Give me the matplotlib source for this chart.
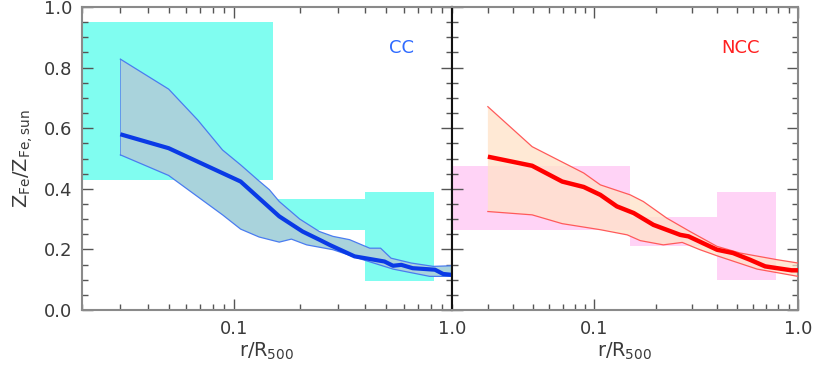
import numpy as np
import matplotlib
matplotlib.use("Agg")
import matplotlib.pyplot as plt
from matplotlib.ticker import FixedLocator, FuncFormatter, MultipleLocator

# ---------------- data ----------------
# CC panel: observational boxes (x0, x1, y0, y1)
cc_box_x0 = [0.02, 0.15, 0.40]
cc_box_x1 = [0.15, 0.40, 0.83]
cc_box_y0 = [0.43, 0.265, 0.095]
cc_box_y1 = [0.95, 0.365, 0.39]

cc_mean_x = [0.03, 0.05, 0.107, 0.161, 0.206, 0.246, 0.274, 0.357, 0.49, 0.536, 0.585, 0.66, 0.835, 0.91, 1.0]
cc_mean_y = [0.58, 0.534, 0.424, 0.309, 0.259, 0.232, 0.215, 0.177, 0.160, 0.146, 0.149, 0.138, 0.133, 0.119, 0.116]

cc_up_x = [0.03, 0.05, 0.068, 0.0884, 0.107, 0.128, 0.145, 0.161, 0.2, 0.246, 0.284, 0.339, 0.419, 0.47, 0.525, 0.65, 0.82, 1.0]
cc_up_y = [0.828, 0.729, 0.627, 0.528, 0.479, 0.430, 0.397, 0.358, 0.300, 0.259, 0.243, 0.232, 0.204, 0.204, 0.171, 0.155, 0.144, 0.146]

cc_lo_x = [0.03, 0.05, 0.0884, 0.107, 0.130, 0.161, 0.183, 0.215, 0.284, 0.39, 0.536, 0.79, 1.0]
cc_lo_y = [0.512, 0.444, 0.314, 0.267, 0.241, 0.224, 0.234, 0.215, 0.199, 0.166, 0.135, 0.111, 0.111]

# NCC panel
ncc_box_x0 = [0.02, 0.15, 0.40]
ncc_box_x1 = [0.15, 0.40, 0.78]
ncc_box_y0 = [0.265, 0.212, 0.10]
ncc_box_y1 = [0.475, 0.307, 0.39]

ncc_mean_x = [0.03, 0.0495, 0.0695, 0.0887, 0.107, 0.129, 0.156, 0.195, 0.264, 0.29, 0.40, 0.48, 0.58, 0.69, 0.79, 0.93, 1.0]
ncc_mean_y = [0.506, 0.476, 0.424, 0.406, 0.380, 0.342, 0.320, 0.281, 0.248, 0.243, 0.199, 0.188, 0.166, 0.144, 0.138, 0.131, 0.131]

ncc_up_x = [0.03, 0.0495, 0.0887, 0.107, 0.15, 0.174, 0.227, 0.295, 0.40, 0.52, 0.79, 1.0]
ncc_up_y = [0.671, 0.539, 0.452, 0.413, 0.380, 0.358, 0.303, 0.259, 0.210, 0.188, 0.166, 0.155]

ncc_lo_x = [0.03, 0.0495, 0.0695, 0.107, 0.145, 0.168, 0.218, 0.27, 0.33, 0.40, 0.63, 1.0]
ncc_lo_y = [0.325, 0.314, 0.285, 0.265, 0.248, 0.229, 0.215, 0.223, 0.199, 0.179, 0.135, 0.111]

xtick_vals = [0.1, 1.0]
xtick_labels = ["0.1", "1.0"]
ytick_vals = [0.0, 0.2, 0.4, 0.6, 0.8, 1.0]
ytick_labels = ["0.0", "0.2", "0.4", "0.6", "0.8", "1.0"]

# ---------------- figure ----------------
W, H = 822, 374
fig = plt.figure(figsize=(W / 100, H / 100), dpi=100)
ax1 = fig.add_axes([82 / W, (H - 310) / H, 370 / W, 303 / H])
ax2 = fig.add_axes([452 / W, (H - 310) / H, 346 / W, 303 / H])

txt_col = "#3a3a3a"
spine_col = "#8a8a8a"


def style(ax, show_ylab):
    ax.set_xscale("log")
    ax.set_xlim(0.02, 1.0)
    ax.set_ylim(0.0, 1.0)
    ax.xaxis.set_major_locator(FixedLocator(xtick_vals))
    ax.xaxis.set_major_formatter(FuncFormatter(
        lambda v, p: xtick_labels[xtick_vals.index(v)] if v in xtick_vals else ""))
    minors = [k * 0.01 for k in range(2, 10)] + [k * 0.1 for k in range(2, 10)]
    ax.xaxis.set_minor_locator(FixedLocator(minors))
    ax.xaxis.set_minor_formatter(FuncFormatter(lambda v, p: ""))
    ax.yaxis.set_major_locator(FixedLocator(ytick_vals))
    ax.yaxis.set_minor_locator(MultipleLocator(0.05))
    if show_ylab:
        ax.set_yticklabels(ytick_labels)
    else:
        ax.set_yticklabels([])
    ax.tick_params(which="both", direction="in", top=True, right=True,
                   colors="#555555", labelcolor=txt_col, labelsize=13, width=1.0)
    ax.tick_params(which="major", length=8, pad=7)
    ax.tick_params(which="minor", length=4.5)
    for s in ax.spines.values():
        s.set_color(spine_col)
        s.set_linewidth(1.5)
    ax.set_xlabel(r"r/R$_{500}$", fontsize=14, color=txt_col, labelpad=2)


style(ax1, True)
style(ax2, False)
ax1.spines["right"].set_color("#111111")
ax2.spines["left"].set_color("#111111")
ax1.set_ylabel(r"Z$_{\rm Fe}$/Z$_{\rm Fe,sun}$", fontsize=14, color=txt_col, labelpad=6)

# CC panel
for x0, x1, y0, y1 in zip(cc_box_x0, cc_box_x1, cc_box_y0, cc_box_y1):
    ax1.fill_between([x0, x1], [y0, y0], [y1, y1], color="#80fdf0", lw=0, zorder=1)
ax1.fill(np.concatenate([cc_up_x, cc_lo_x[::-1]]),
         np.concatenate([cc_up_y, cc_lo_y[::-1]]),
         facecolor="#a9d3dc", edgecolor="none", zorder=2)
ax1.plot(cc_up_x, cc_up_y, color="#4a7cf0", lw=0.9, zorder=3)
ax1.plot(cc_lo_x, cc_lo_y, color="#4a7cf0", lw=0.9, zorder=3)
ax1.plot([cc_up_x[0], cc_lo_x[0]], [cc_up_y[0], cc_lo_y[0]], color="#4a7cf0", lw=0.5, zorder=3)
ax1.plot(cc_mean_x, cc_mean_y, color="#0a3ae6", lw=3.0, zorder=4, solid_capstyle="butt")
ax1.text(401 / W, 1 - 48 / H, "CC", transform=fig.transFigure, color="#2f6bff",
         fontsize=13, ha="center", va="center")

# NCC panel
for x0, x1, y0, y1 in zip(ncc_box_x0, ncc_box_x1, ncc_box_y0, ncc_box_y1):
    ax2.fill_between([x0, x1], [y0, y0], [y1, y1], color="#ffd3f6", lw=0, zorder=1)
ax2.fill(np.concatenate([ncc_up_x, ncc_lo_x[::-1]]),
         np.concatenate([ncc_up_y, ncc_lo_y[::-1]]),
         facecolor="#ffe2c8", edgecolor="none", alpha=0.75, zorder=2)
ax2.plot(ncc_up_x, ncc_up_y, color="#ff5a5a", lw=0.9, zorder=3)
ax2.plot(ncc_lo_x, ncc_lo_y, color="#ff5a5a", lw=0.9, zorder=3)
ax2.plot(ncc_mean_x, ncc_mean_y, color="#ff0000", lw=3.2, zorder=4, solid_capstyle="butt")
ax2.text(740 / W, 1 - 48 / H, "NCC", transform=fig.transFigure, color="#ff2020",
         fontsize=13, ha="center", va="center")

fig.savefig("out.png", dpi=100)
